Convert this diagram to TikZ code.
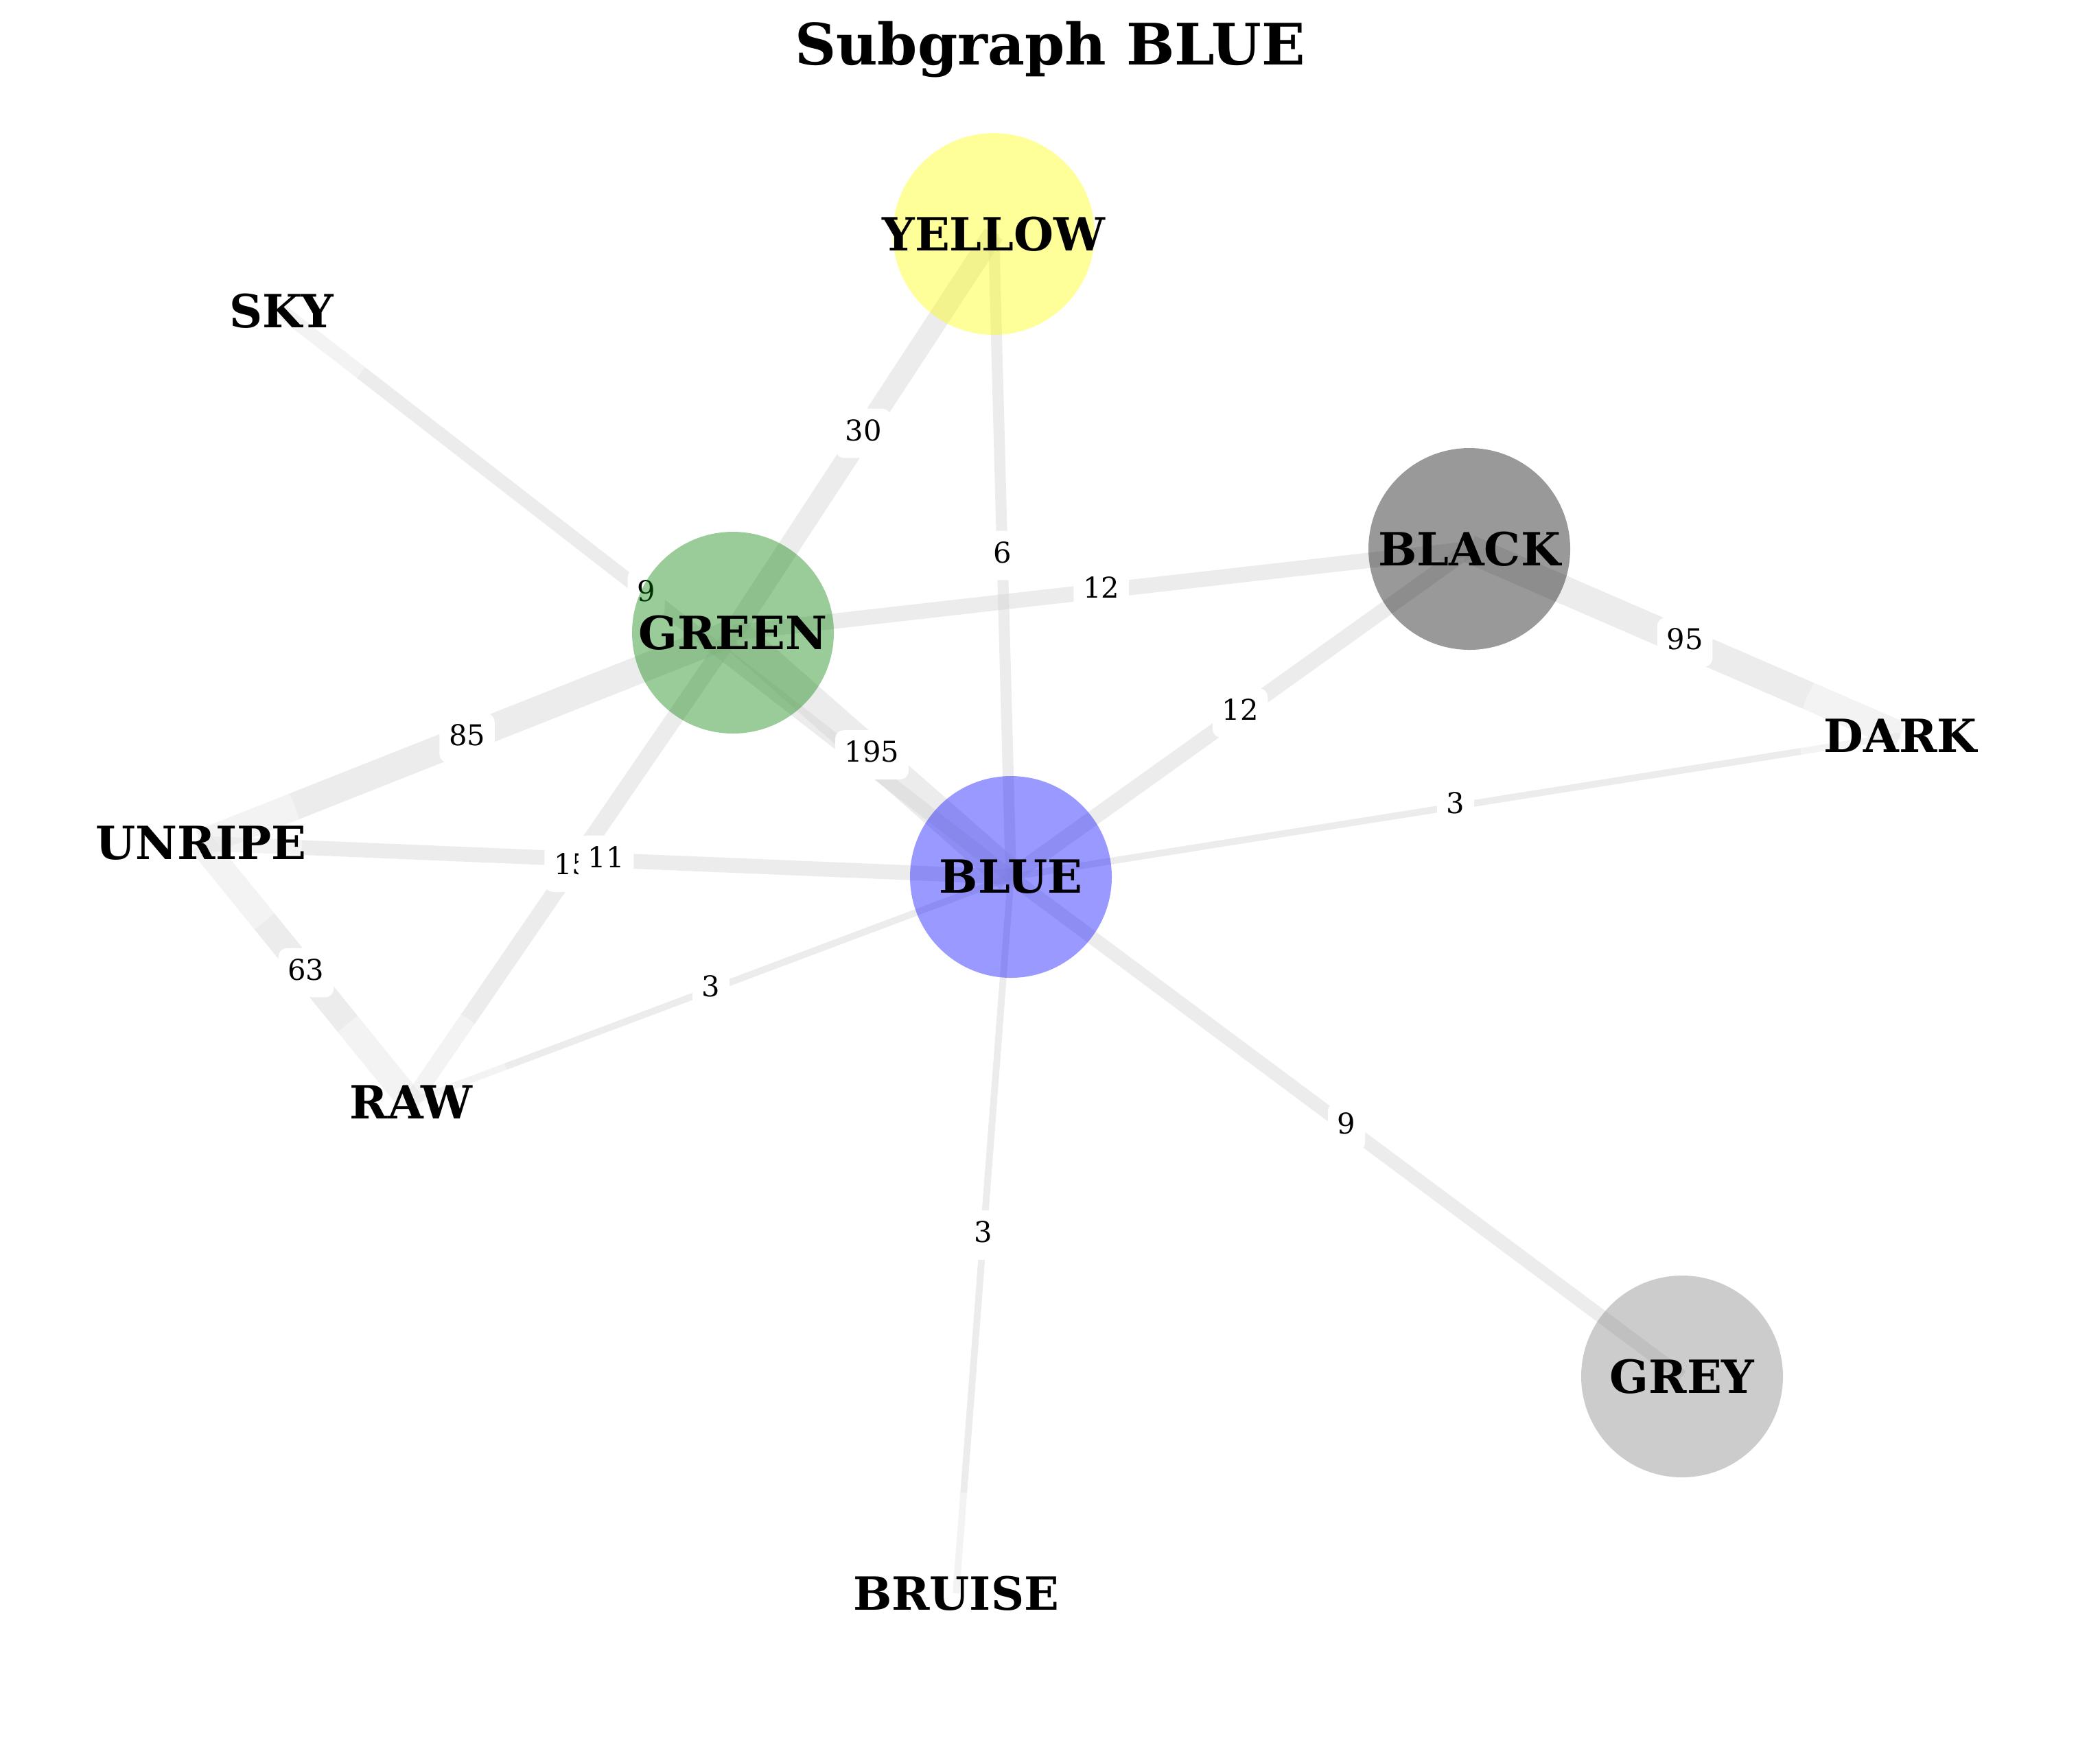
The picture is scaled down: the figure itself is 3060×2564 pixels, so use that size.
\documentclass[tikz,border=0pt]{standalone}
\usepackage{fontspec}
\setmainfont{DejaVu Serif}
\definecolor{edgegray}{RGB}{211,211,211}
\definecolor{mplgreen}{RGB}{0,128,0}
\definecolor{mplblue}{RGB}{0,0,255}
\definecolor{mplyellow}{RGB}{255,255,0}
\definecolor{mplgrey}{RGB}{128,128,128}
\pgfdeclarelayer{edgelayer}
\pgfdeclarelayer{labellayer}
\pgfsetlayers{edgelayer,labellayer,main}
\begin{document}
\begin{tikzpicture}[x=0.24pt,y=-0.24pt,
  vtx/.style={circle, minimum size=70.56pt, inner sep=0pt, draw=none,
    fill opacity=0.4,
    label={[text opacity=1, fill opacity=1, font=\fontsize{16}{19}\selectfont\bfseries]center:#1}},
  edge/.style={draw=edgegray, draw opacity=0.43, line cap=butt},
  elbl/.style={fill=white, rounded corners=3pt, inner xsep=3.3pt, inner ysep=3pt,
    text height=8.2pt, text depth=3pt, font=\fontsize{10}{12}\selectfont}]
\useasboundingbox (0,0) rectangle (3060,2564);

% nodes
\node[vtx=YELLOW, fill=mplyellow] (YELLOW) at (1448,341) {};
\node[vtx=GREEN, fill=mplgreen]  (GREEN)  at (1068,922) {};
\node[vtx=BLACK, fill=black]     (BLACK)  at (2141,800) {};
\node[vtx=BLUE, fill=mplblue]    (BLUE)   at (1473,1278) {};
\node[vtx=GREY, fill=mplgrey]    (GREY)   at (2451,2006) {};
\node[vtx=SKY, fill=white]       (SKY)    at (410,453) {};
\node[vtx=UNRIPE, fill=white]    (UNRIPE) at (293,1229) {};
\node[vtx=RAW, fill=white]       (RAW)    at (599,1606) {};
\node[vtx=BRUISE, fill=white]    (BRUISE) at (1393,2322) {};
\node[vtx=DARK, fill=white]      (DARK)   at (2769,1072) {};

\node[font=\fontsize{20}{24}\selectfont\bfseries, anchor=base] (title) at (1530,94) {Subgraph BLUE};

\begin{pgfonlayer}{edgelayer}
\draw[edge, line width=4.75pt] (SKY.center) -- (BLUE.center);
\draw[edge, line width=7.35pt] (YELLOW.center) -- (GREEN.center);
\draw[edge, line width=5.85pt] (GREEN.center) -- (RAW.center);
\draw[edge, line width=5.18pt] (UNRIPE.center) -- (BLUE.center);
\draw[edge, line width=11.39pt] (GREEN.center) -- (BLUE.center);
\draw[edge, line width=3.87pt] (YELLOW.center) -- (BLUE.center);
\draw[edge, line width=5.37pt] (GREEN.center) -- (BLACK.center);
\draw[edge, line width=5.37pt] (BLACK.center) -- (BLUE.center);
\draw[edge, line width=9.84pt] (BLACK.center) -- (DARK.center);
\draw[edge, line width=2.37pt] (BLUE.center) -- (DARK.center);
\draw[edge, line width=9.6pt] (UNRIPE.center) -- (GREEN.center);
\draw[edge, line width=8.95pt] (UNRIPE.center) -- (RAW.center);
\draw[edge, line width=2.37pt] (RAW.center) -- (BLUE.center);
\draw[edge, line width=2.37pt] (BLUE.center) -- (BRUISE.center);
\draw[edge, line width=4.75pt] (BLUE.center) -- (GREY.center);
\end{pgfonlayer}

\begin{pgfonlayer}{labellayer}
\path (SKY.center) -- node[elbl] (l1) {9} (BLUE.center);
\path (YELLOW.center) -- node[elbl] (l2) {30} (GREEN.center);
\path (GREEN.center) -- node[elbl] (l3) {15} (RAW.center);
\path (UNRIPE.center) -- node[elbl] (l4) {11} (BLUE.center);
\path (GREEN.center) -- node[elbl] (l5) {195} (BLUE.center);
\path (YELLOW.center) -- node[elbl] (l6) {6} (BLUE.center);
\path (GREEN.center) -- node[elbl] (l7) {12} (BLACK.center);
\path (BLACK.center) -- node[elbl] (l8) {12} (BLUE.center);
\path (BLACK.center) -- node[elbl] (l9) {95} (DARK.center);
\path (BLUE.center) -- node[elbl] (l10) {3} (DARK.center);
\path (UNRIPE.center) -- node[elbl] (l11) {85} (GREEN.center);
\path (UNRIPE.center) -- node[elbl] (l12) {63} (RAW.center);
\path (RAW.center) -- node[elbl] (l13) {3} (BLUE.center);
\path (BLUE.center) -- node[elbl] (l14) {3} (BRUISE.center);
\path (BLUE.center) -- node[elbl] (l15) {9} (GREY.center);
\end{pgfonlayer}
\end{tikzpicture}
\end{document}
